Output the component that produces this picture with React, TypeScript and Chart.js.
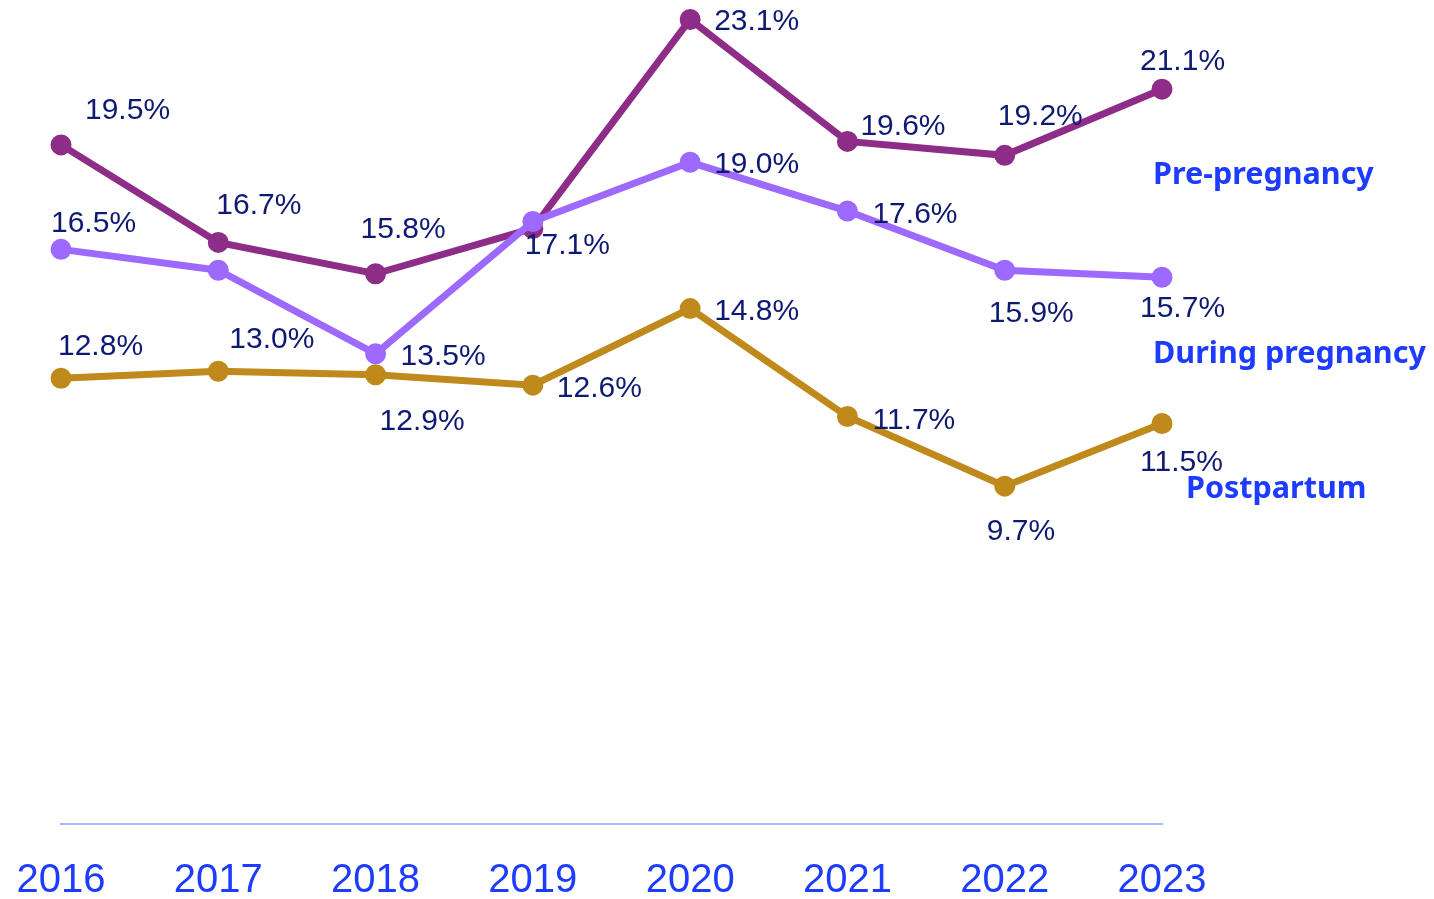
import React, { useEffect, useRef } from "react";
import { Chart, registerables } from "chart.js";

Chart.register(...registerables);

const years = ["2016", "2017", "2018", "2019", "2020", "2021", "2022", "2023"];
const prePregnancy = [19.5, 16.7, 15.8, 17.1, 23.1, 19.6, 19.2, 21.1];
const duringPregnancy = [16.5, 15.9, 13.5, 17.3, 19.0, 17.6, 15.9, 15.7];
const postpartum = [12.8, 13.0, 12.9, 12.6, 14.8, 11.7, 9.7, 11.5];

// which point labels are visible in the reference
const preShown = [true, true, true, true, true, true, true, true];
const duringShown = [true, false, true, false, true, true, true, true];
const postShown = [true, true, true, true, true, true, true, true];

// label placement offsets (px) relative to the point: [dx to left edge, dy to text middle]
const preOffsets = [[24, -34], [-2, -37], [-15, -44], [-8, 17], [24, 2], [13, -15], [-7, -39], [-22, -27]];
const duringOffsets = [[-10, -26], [0, 0], [25, 3], [0, 0], [24, 2], [25, 4], [-16, 43], [-22, 32]];
const postOffsets = [[-3, -31], [11, -32], [4, 47], [24, 4], [24, 3], [25, 4], [-18, 46], [-22, 39]];

const seriesNames = ["Pre-pregnancy", "During pregnancy", "Postpartum"];
// series name anchors: [value on y scale, dx from last category]
const seriesNameY = [18.62, 13.48, 9.61];
const seriesNameDx = [-9, -9, 24];

const COLORS = {
  pre: "#8E2D88",
  during: "#9D69FF",
  post: "#BF8A1B",
  label: "#0E1A72",
  name: "#1E3CFF",
  axis: "#AAB6FF",
};

export default function App() {
  const canvasRef = useRef<HTMLCanvasElement | null>(null);

  useEffect(() => {
    document.body.style.margin = "0";
    const canvas = canvasRef.current;
    if (!canvas) return;

    const labelPlugin = {
      id: "pointLabels",
      afterDatasetsDraw(chart: any) {
        const ctx = chart.ctx;
        const shows = [preShown, duringShown, postShown];
        const offs = [preOffsets, duringOffsets, postOffsets];
        const vals = [prePregnancy, duringPregnancy, postpartum];
        ctx.save();
        ctx.font = "30px 'Liberation Sans', Arial, sans-serif";
        ctx.fillStyle = COLORS.label;
        ctx.textAlign = "left";
        ctx.textBaseline = "middle";
        for (let d = 0; d < 3; d++) {
          const meta = chart.getDatasetMeta(d);
          meta.data.forEach((pt: any, i: number) => {
            if (!shows[d][i]) return;
            const [dx, dy] = offs[d][i];
            ctx.fillText(vals[d][i].toFixed(1) + "%", pt.x + dx, pt.y + dy);
          });
        }
        // series names
        const xs = chart.scales.x;
        const ys = chart.scales.y;
        const lastX = xs.getPixelForValue(years.length - 1);
        ctx.font = "bold 30.5px 'Noto Sans', sans-serif";
        ctx.fillStyle = COLORS.name;
        seriesNames.forEach((n, i) => {
          ctx.fillText(n, lastX + seriesNameDx[i], ys.getPixelForValue(seriesNameY[i]));
        });
        ctx.restore();
      },
    };

    const common = {
      borderWidth: 7,
      pointRadius: 9.5,
      pointBorderWidth: 2,
      pointHoverRadius: 9.5,
      tension: 0,
      clip: false as any,
    };

    const chart = new Chart(canvas, {
      type: "line",
      data: {
        labels: years,
        datasets: [
          {
            label: seriesNames[0],
            data: prePregnancy,
            borderColor: COLORS.pre,
            backgroundColor: COLORS.pre,
            pointBackgroundColor: COLORS.pre,
            order: 1,
            ...common,
          },
          {
            label: seriesNames[1],
            data: duringPregnancy,
            borderColor: COLORS.during,
            backgroundColor: COLORS.during,
            pointBackgroundColor: COLORS.during,
            order: 0,
            ...common,
          },
          {
            label: seriesNames[2],
            data: postpartum,
            borderColor: COLORS.post,
            backgroundColor: COLORS.post,
            pointBackgroundColor: COLORS.post,
            order: 2,
            ...common,
          },
        ],
      },
      options: {
        animation: false,
        responsive: false,
        maintainAspectRatio: false,
        layout: { padding: { left: 61, right: 272, top: 5, bottom: 0 } },
        plugins: {
          legend: { display: false },
          tooltip: { enabled: false },
          title: { display: false },
        },
        scales: {
          x: {
            offset: false,
            grid: { display: false, drawTicks: false },
            border: { display: true, color: COLORS.axis, width: 2 },
            ticks: {
              color: COLORS.name,
              font: { size: 40, family: "'Liberation Sans', Arial, sans-serif" },
              padding: 33,
              maxRotation: 0,
              autoSkip: false,
            },
            afterFit: (scale: any) => {
              scale.height = 75;
              scale.paddingLeft = 0;
              scale.paddingRight = 0;
            },
          },
          y: {
            display: false,
            min: 0,
            max: 23.33,
          },
        },
      },
      plugins: [labelPlugin],
    });

    return () => chart.destroy();
  }, []);

  return (
    <div style={{ width: 1434, height: 899, position: "relative" }}>
      <canvas ref={canvasRef} width={1434} height={899} style={{ display: "block" }} />
    </div>
  );
}
